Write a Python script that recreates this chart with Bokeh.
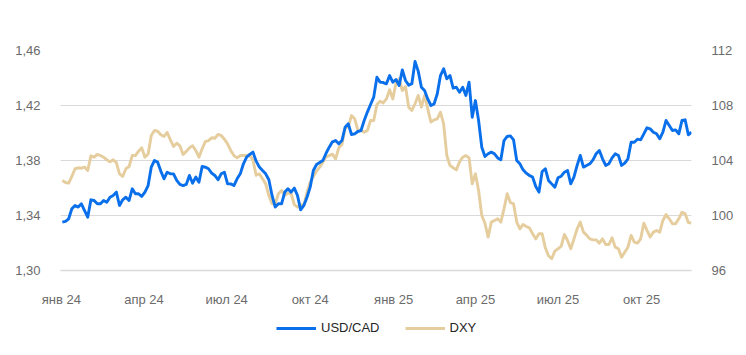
import pandas as pd
from bokeh.plotting import figure
from bokeh.layouts import column
from bokeh.models import (Range1d, LinearAxis, FixedTicker, CustomJSTickFormatter,
                          Legend, LegendItem)
from bokeh.embed import file_html
from bokeh.resources import INLINE

# observation dates: twice a week (x categories)
dates = pd.date_range("2024-01-02", periods=199, freq="84h")

usdcad = [
    1.3352, 1.3357, 1.3376, 1.3449, 1.3473, 1.3461, 1.3485, 1.3436, 1.3388, 1.3514,
    1.3509, 1.3485, 1.3485, 1.3509, 1.3497, 1.3533, 1.3545, 1.3570, 1.3473, 1.3514,
    1.3533, 1.3509, 1.3594, 1.3558, 1.3558, 1.3539, 1.3570, 1.3618, 1.3752, 1.3800,
    1.3788, 1.3723, 1.3667, 1.3715, 1.3703, 1.3703, 1.3655, 1.3626, 1.3618, 1.3626,
    1.3691, 1.3635, 1.3679, 1.3642, 1.3757, 1.3752, 1.3740, 1.3708, 1.3691, 1.3660,
    1.3703, 1.3715, 1.3630, 1.3630, 1.3618, 1.3667, 1.3703, 1.3776, 1.3824, 1.3844,
    1.3861, 1.3795, 1.3752, 1.3728, 1.3703, 1.3660, 1.3546, 1.3461, 1.3485, 1.3485,
    1.3570, 1.3594, 1.3570, 1.3599, 1.3546, 1.3441, 1.3473, 1.3533, 1.3606, 1.3727,
    1.3771, 1.3785, 1.3800, 1.3853, 1.3897, 1.3936, 1.3945, 1.3921, 1.3945, 1.4042,
    1.4067, 1.3989, 1.3994, 1.4011, 1.4018, 1.4091, 1.4152, 1.4207, 1.4261, 1.4406,
    1.4370, 1.4367, 1.4358, 1.4418, 1.4370, 1.4389, 1.4345, 1.4459, 1.4382, 1.4348,
    1.4358, 1.4520, 1.4450, 1.4333, 1.4309, 1.4248, 1.4200, 1.4212, 1.4285, 1.4418,
    1.4467, 1.4394, 1.4418, 1.4326, 1.4333, 1.4297, 1.4333, 1.4273, 1.4370, 1.4115,
    1.4236, 1.4091, 1.3897, 1.3829, 1.3849, 1.3861, 1.3849, 1.3819, 1.3805, 1.3945,
    1.3975, 1.3979, 1.3950, 1.3800, 1.3776, 1.3732, 1.3708, 1.3691, 1.3679, 1.3611,
    1.3570, 1.3720, 1.3740, 1.3655, 1.3630, 1.3606, 1.3674, 1.3686, 1.3715, 1.3727,
    1.3630, 1.3679, 1.3764, 1.3837, 1.3752, 1.3764, 1.3776, 1.3805, 1.3849, 1.3873,
    1.3812, 1.3764, 1.3776, 1.3819, 1.3849, 1.3837, 1.3764, 1.3781, 1.3812, 1.3933,
    1.3933, 1.3955, 1.3950, 1.3994, 1.4038, 1.4030, 1.4006, 1.3994, 1.3958, 1.4006,
    1.4091, 1.4055, 1.4018, 1.4023, 1.3994, 1.4091, 1.4096, 1.3987, 1.4006,
]

dxy = [
    102.55, 102.40, 102.35, 102.84, 103.40, 103.47, 103.44, 103.52, 103.27, 104.34,
    104.24, 104.44, 104.36, 104.24, 104.05, 103.90, 104.05, 103.85, 103.03, 102.84,
    103.40, 103.56, 104.36, 104.36, 104.68, 104.92, 104.24, 104.48, 105.82, 106.18,
    106.13, 105.87, 105.75, 106.04, 105.50, 105.02, 105.26, 105.07, 104.44, 104.66,
    104.92, 105.07, 104.73, 104.24, 104.85, 105.38, 105.45, 105.65, 105.62, 105.89,
    105.82, 105.55, 105.21, 104.73, 104.36, 104.19, 104.36, 104.36, 104.36, 104.41,
    104.00, 102.93, 103.03, 102.67, 102.30, 101.45, 100.85, 100.85, 101.58, 101.82,
    101.46, 101.63, 101.58, 100.80, 100.61, 100.80, 100.73, 101.70, 102.43, 102.84,
    103.23, 103.52, 103.88, 104.27, 104.36, 104.46, 104.12, 104.92, 105.16, 106.38,
    106.47, 107.27, 107.03, 106.23, 106.18, 106.06, 106.18, 106.91, 106.91, 108.07,
    108.31, 108.19, 108.48, 109.14, 108.48, 109.62, 109.94, 109.09, 109.38, 107.88,
    107.64, 108.12, 108.73, 107.88, 108.73, 107.76, 106.79, 106.96, 107.03, 107.51,
    106.67, 104.36, 103.64, 103.47, 103.32, 103.90, 104.24, 104.36, 104.19, 102.30,
    103.03, 101.82, 100.00, 99.44, 98.43, 99.52, 99.64, 99.76, 99.52, 100.49,
    101.58, 100.95, 100.85, 99.52, 99.03, 99.35, 99.20, 99.10, 98.67, 98.30,
    98.67, 98.67, 97.65, 97.07, 96.85, 97.41, 97.58, 97.77, 98.62, 98.18,
    97.58, 98.28, 99.03, 99.52, 98.79, 98.57, 98.30, 98.23, 98.23, 97.99,
    98.30, 97.89, 97.89, 98.38, 97.70, 97.58, 96.97, 97.33, 97.70, 98.55,
    98.06, 97.99, 98.30, 99.44, 98.91, 98.43, 98.79, 98.91, 98.79, 99.64,
    100.07, 99.76, 99.40, 99.40, 99.76, 100.24, 100.12, 99.49, 99.44,
]

tick_dates = ["2024-01-01", "2024-04-01", "2024-07-01", "2024-10-01",
              "2025-01-01", "2025-04-01", "2025-07-01", "2025-10-01"]
tick_labels = ["янв 24", "апр 24", "июл 24", "окт 24",
               "янв 25", "апр 25", "июл 25", "окт 25"]
left_ticks = [1.30, 1.34, 1.38, 1.42, 1.46]
right_ticks = [96, 100, 104, 108, 112]
series_names = ["USD/CAD", "DXY"]

FONT = "Liberation Sans"
GRAY = "#6b6b6b"
BLUE = "#0A6FEA"
TAN = "#E5CD9E"

x0 = pd.Timestamp("2023-12-31")
x1 = pd.Timestamp("2025-11-25")

p = figure(width=746, height=310, x_axis_type="datetime",
           x_range=Range1d(x0, x1), y_range=Range1d(1.30, 1.46),
           output_backend="svg", toolbar_location=None,
           min_border_left=60, min_border_right=55,
           min_border_top=50, min_border_bottom=40)
p.outline_line_color = None
p.background_fill_color = "white"
p.border_fill_color = "white"

p.extra_y_ranges = {"dxy": Range1d(96, 112)}

r_dxy = p.line(dates, dxy, line_color=TAN, line_width=2.9, y_range_name="dxy",
               line_join="round")
r_usd = p.line(dates, usdcad, line_color=BLUE, line_width=2.9, line_join="round")

tick_ms = [pd.Timestamp(d).value / 1e6 for d in tick_dates]

xa = p.xaxis[0]
xa.ticker = FixedTicker(ticks=tick_ms)
xa.formatter = CustomJSTickFormatter(args=dict(tvals=tick_ms, tlabels=tick_labels), code="""
    const i = tvals.indexOf(tick);
    return i >= 0 ? tlabels[i] : '';
""")
xa.axis_line_color = "#d9d9d9"
xa.axis_line_width = 1.5
xa.major_tick_line_color = None
xa.minor_tick_line_color = None
xa.major_label_text_font = FONT
xa.major_label_text_font_size = "13px"
xa.major_label_text_color = GRAY
xa.major_label_standoff = 15

ya = p.yaxis[0]
ya.ticker = FixedTicker(ticks=left_ticks)
ya.formatter = CustomJSTickFormatter(code="return tick.toFixed(2).replace('.', ',');")
ya.axis_line_color = None
ya.major_tick_line_color = None
ya.minor_tick_line_color = None
ya.major_label_text_font = FONT
ya.major_label_text_font_size = "13px"
ya.major_label_text_color = GRAY
ya.major_label_standoff = 14

ra = LinearAxis(y_range_name="dxy", ticker=FixedTicker(ticks=right_ticks))
ra.axis_line_color = None
ra.major_tick_line_color = None
ra.minor_tick_line_color = None
ra.major_label_text_font = FONT
ra.major_label_text_font_size = "13px"
ra.major_label_text_color = GRAY
ra.major_label_standoff = 14
p.add_layout(ra, "right")

p.xgrid.grid_line_color = None
p.ygrid.grid_line_color = "#d9d9d9"
p.ygrid.grid_line_width = 1
p.ygrid.ticker = FixedTicker(ticks=left_ticks)

# legend strip below the chart (its frame is aligned with the chart's frame)
lg = figure(width=746, height=45, x_range=Range1d(0, 1), y_range=Range1d(0, 1),
            output_backend="svg", toolbar_location=None,
            x_axis_location=None, y_axis_location=None, min_border=0)
lg.outline_line_color = None
lg.xgrid.grid_line_color = None
lg.ygrid.grid_line_color = None
nan = float("nan")
l_usd = lg.line([nan], [nan], line_color=BLUE, line_width=3)
l_dxy = lg.line([nan], [nan], line_color=TAN, line_width=3)
legend = Legend(items=[LegendItem(label=series_names[0], renderers=[l_usd]),
                       LegendItem(label=series_names[1], renderers=[l_dxy])],
                orientation="horizontal", location=(216, 20))
legend.label_text_font = FONT
legend.label_text_font_size = "13px"
legend.label_text_color = "#262626"
legend.glyph_width = 40
legend.glyph_height = 14
legend.label_standoff = 5
legend.spacing = 25
legend.border_line_color = None
legend.background_fill_alpha = 0
legend.padding = 2
legend.margin = 0
lg.add_layout(legend, "center")

layout = column(p, lg, spacing=0)
open("out.html", "w").write(file_html(layout, INLINE))
